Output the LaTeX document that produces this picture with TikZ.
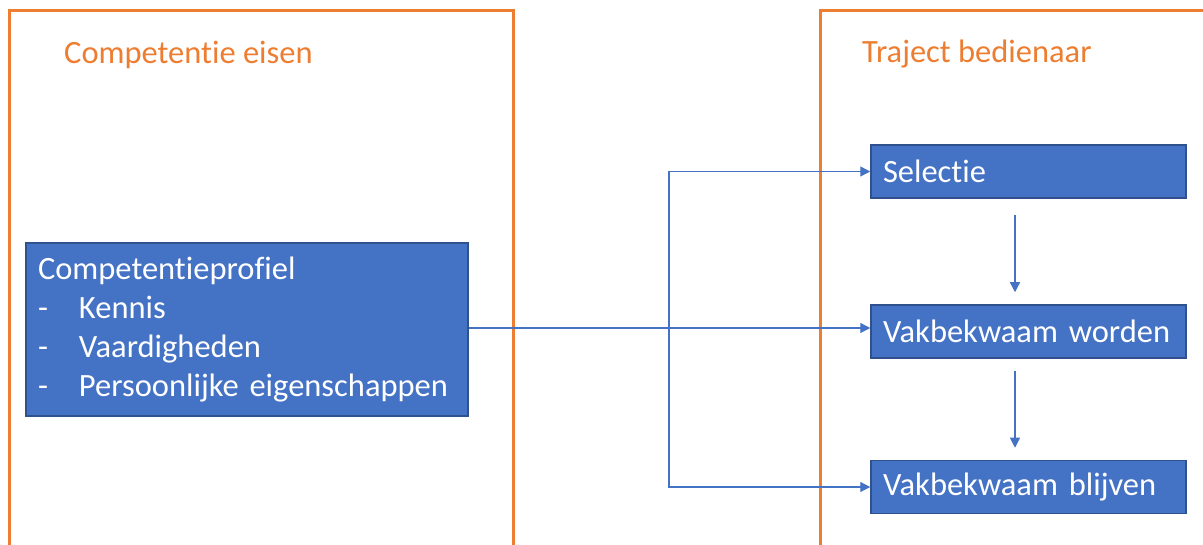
\documentclass[tikz,border=0pt]{standalone}
\usepackage{fontspec}
\setmainfont{Carlito}[Ligatures=NoCommon]
\usetikzlibrary{arrows.meta}

\definecolor{kaderoranje}{HTML}{ED7D31}
\definecolor{vakblauw}{HTML}{4472C4}
\definecolor{randblauw}{HTML}{2F528F}
\definecolor{pijlblauw}{HTML}{4472C4}

\newcommand{\streep}[1]{\makebox[41pt][l]{-}#1}

\begin{document}
\begin{tikzpicture}[x=1pt,y=1pt,
	kader/.style={draw=kaderoranje, line width=3pt},
	kop/.style={anchor=base west, text=kaderoranje, inner sep=0pt, font=\fontsize{32.5}{39}\selectfont},
	vak/.style={draw=randblauw, line width=1.5pt, fill=vakblauw, text=white, align=left,
		inner sep=12pt, font=\fontsize{32.5}{39.3}\selectfont},
	stap/.style={vak, minimum width=315pt, minimum height=53pt, text width=291pt},
	pijl/.style={draw=pijlblauw, line width=1.2pt, -{Triangle[length=10pt,width=10pt]}}]
	\useasboundingbox (0,0) rectangle (1203,544);
	\clip (0,0) rectangle (1203,544);
	
	% kaders
	\draw[kader] (9,-10) -- (9,533) -- (513,533) -- (513,-10);
	\draw[kader] (820,-10) -- (820,533) -- (1215,533);
	
	\node[kop] (eisen) at (64,480) {Competentie eisen};
	\node[kop] (traject) at (862,481) {Traject bedienaar};
	
	% vakken
	\node[vak, minimum width=442pt, minimum height=173pt, text width=418pt] (profiel) at (247,214.5)
		{Competentieprofiel\\ \streep{Kennis}\\ \streep{Vaardigheden}\\ \streep{Persoonlijke eigenschappen}};
	
	\node[stap] (selectie) at (1028.5,372.5) {Selectie};
	\node[stap] (worden) at (1028.5,212.5) {Vakbekwaam worden};
	\node[stap] (blijven) at (1028.5,57) {Vakbekwaam blijven};
	
	\coordinate (splits) at (669,216);
	
	\draw[pijl] (profiel.east |- splits) -- (splits) -- (worden.west |- splits);
	\draw[pijl] (splits) |- (selectie.west);
	\draw[pijl] (splits) |- (blijven.west);
	
	\draw[pijl, shorten <=16pt, shorten >=12pt] ([xshift=-13.5pt]selectie.south) -- ([xshift=-13.5pt]worden.north);
	\draw[pijl, shorten <=12pt, shorten >=12pt] ([xshift=-13.5pt]worden.south) -- ([xshift=-13.5pt]blijven.north);
\end{tikzpicture}
\end{document}
